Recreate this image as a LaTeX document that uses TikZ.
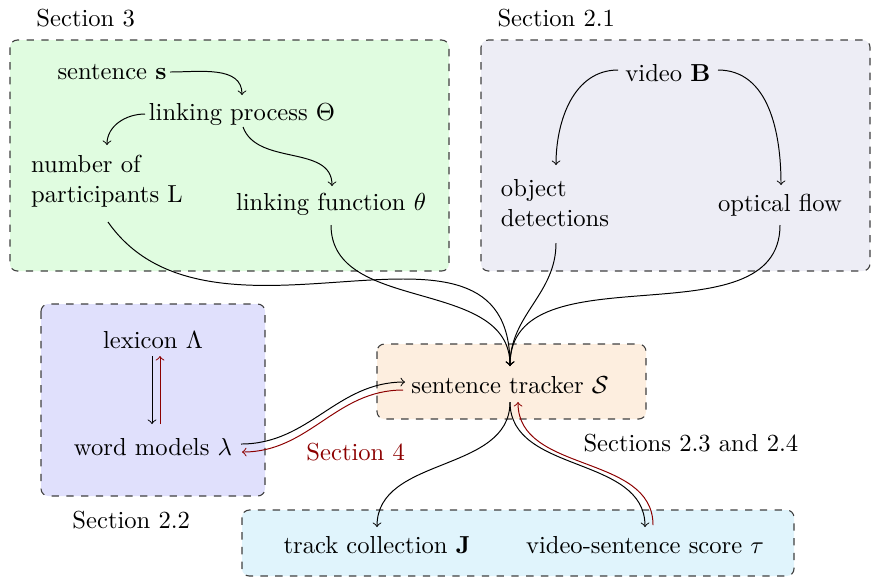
\documentclass[tikz,border=0pt]{standalone}
\usepackage{amsmath,amssymb}
\begin{document}
\begin{tikzpicture}[x=0.4065pt,y=-0.4065pt,
  secbox/.style={draw=black!75,dashed,rounded corners=3pt,line width=0.45pt},
  lbl/.style={inner sep=0pt,anchor=center},
  arr/.style={->,line width=0.4pt},
  rarr/.style={->,line width=0.4pt,draw=secred},
]
\definecolor{secred}{RGB}{140,0,0}
\definecolor{cgreen}{RGB}{224,252,224}
\definecolor{cgray}{RGB}{237,237,245}
\definecolor{cblue}{RGB}{224,224,252}
\definecolor{corange}{RGB}{253,238,223}
\definecolor{ccyan}{RGB}{224,244,252}
\useasboundingbox (0,0) rectangle (879,584);

% boxes
\draw[secbox,fill=cgreen] (10,40) rectangle (449,271);
\draw[secbox,fill=cgray] (481,40) rectangle (870,271);
\draw[secbox,fill=cblue] (41,304) rectangle (265,496);
\draw[secbox,fill=corange] (377,344) rectangle (646,419);
\draw[secbox,fill=ccyan] (242,510) rectangle (794,576);

% section labels
\node[lbl,anchor=west] (l3) at (36,18) {Section 3};
\node[lbl,anchor=west] (l21) at (497,18) {Section 2.1};
\node[lbl,anchor=west] (l22) at (72,520) {Section 2.2};
\node[lbl,anchor=west,text=secred] (l4) at (306,452) {Section 4};
\node[lbl,anchor=west] (l234) at (583,443) {Sections 2.3 and 2.4};

% nodes
\node[lbl] (sent) at (112,72) {sentence $\mathbf{s}$};
\node[lbl] (lp) at (242,114) {linking process $\Theta$};
\node[lbl,align=left] (np) at (107,181) {number of\\participants L};
\node[lbl] (lf) at (331,204) {linking function $\theta$};
\node[lbl] (vid) at (668,73) {video $\mathbf{B}$};
\node[lbl,align=left] (od) at (555,203) {object\\detections};
\node[lbl] (of) at (780,205) {optical flow};
\node[lbl] (lex) at (153,340) {lexicon $\Lambda$};
\node[lbl] (wm) at (153,447) {word models $\lambda$};
\node[lbl] (st) at (510,385) {sentence tracker $\mathcal{S}$};
\node[lbl] (tc) at (377,545) {track collection $\mathbf{J}$};
\node[lbl] (vs) at (645,545) {video-sentence score $\tau$};

% anchor coordinates
\coordinate (stN) at (510,366);
\coordinate (stS) at (510,402);
\coordinate (stS2) at (518,402);

% section 3 arrows
\draw[arr] (170,72) to[out=0,in=90] (242,95);
\draw[arr] (145,114) to[out=180,in=90] (107,145);
\draw[arr] (243,127) to[out=-70,in=90] (332,186);

% section 2.1 arrows
\draw[arr] (618,70) to[out=180,in=90] (556,165);
\draw[arr] (718,70) to[out=0,in=90] (781,185);

% into tracker
\draw[arr] (108,222) to[out=-55,in=90,looseness=1.1] (stN);
\draw[arr] (331,225) to[out=-90,in=90] (stN);
\draw[arr] (556,243) to[out=-90,in=90] (stN);
\draw[arr] (780,225) to[out=-90,in=90] (stN);

% lexicon <-> word models
\draw[arr] (152,356) -- (152,424);
\draw[rarr] (160,424) -- (160,356);

% word models <-> tracker
\draw[arr] (241,444) to[out=0,in=180] (405,382);
\draw[rarr] (403,390) to[out=180,in=0] (242,452);

% tracker -> outputs
\draw[arr] (stS) to[out=-90,in=90] (377,527);
\draw[arr] (stS) to[out=-90,in=90] (645,527);
\draw[rarr] (653,525) to[out=90,in=-90] (stS2);
\end{tikzpicture}
\end{document}
